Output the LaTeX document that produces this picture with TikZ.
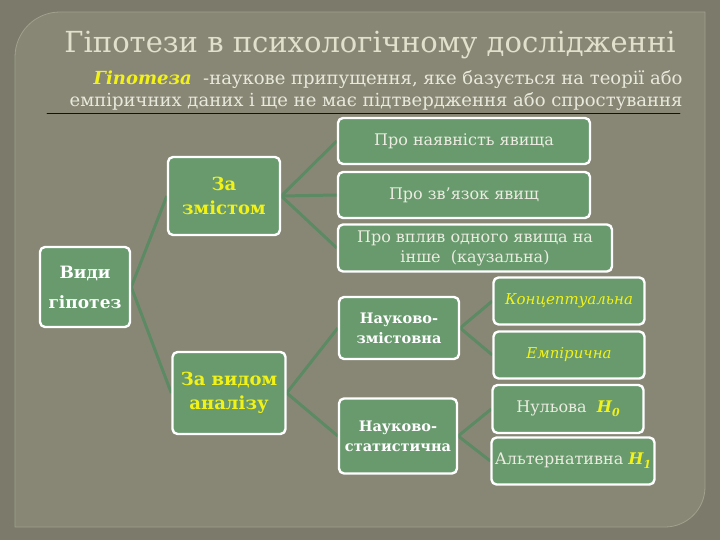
\documentclass[tikz,border=0pt]{standalone}
\usepackage{fontspec}
\setmainfont{DejaVu Serif}
\usetikzlibrary{backgrounds}
\definecolor{bgout}{RGB}{124,123,107}
\definecolor{bgin}{RGB}{136,135,118}
\definecolor{rim}{RGB}{160,160,142}
\definecolor{leaf}{RGB}{104,154,110}
\definecolor{wire}{RGB}{92,138,98}
\definecolor{pale}{RGB}{224,224,204}
\definecolor{hl}{RGB}{242,242,24}
\newcommand{\hyp}[1]{\textcolor{hl}{\textbf{\textit{H\raisebox{-0.45ex}{\fontsize{11}{11}\selectfont #1}}}}}
\begin{document}
\begin{tikzpicture}[x=1pt,y=-1pt,line join=round,line cap=round,
  box/.style={draw=white,line width=2.4pt,fill=leaf,rounded corners=5pt,text=pale!60!white,
    align=center,inner sep=0pt,font=\fontsize{16}{20}\selectfont},
  head/.style={box,text=hl,font=\bfseries\fontsize{18}{24}\selectfont},
  wire/.style={draw=wire,line width=3pt}]
\useasboundingbox (0,0) rectangle (720,540);
% title and definition
\node[text=pale,font=\fontsize{29}{32}\selectfont] (title) at (370,45) {Гіпотези в психологічному дослідженні};
\node[anchor=east,text=pale!70!white,font=\fontsize{18}{20}\selectfont] (defa) at (686,80)
  {\textcolor{hl}{\textbf{\textit{Гіпотеза}}}\ \ -наукове припущення, яке базується на теорії або};
\node[anchor=east,text=pale!70!white,font=\fontsize{18}{20}\selectfont] (defb) at (686,102)
  {емпіричних даних і ще не має підтвердження або спростування};
\draw[black!70!green!40!black,line width=0.8pt] (47,113) -- (680,113);
% tree
\node[box,minimum width=90,minimum height=80,font=\bfseries\fontsize{17}{30}\selectfont,text=white] (kinds) at (85,287) {Види\\гіпотез};
\node[head,minimum width=112,minimum height=78] (cont) at (224,196) {За\\змістом};
\node[head,minimum width=113,minimum height=82] (anal) at (229,393) {За видом\\аналізу};
\node[box,minimum width=252,minimum height=46] (exist) at (464,141) {Про наявність явища};
\node[box,minimum width=252,minimum height=46] (link) at (464,195) {Про зв’язок явищ};
\node[box,minimum width=274,minimum height=47] (cause) at (475,248) {Про вплив одного явища на\\інше\ \ (каузальна)};
\node[box,minimum width=120,minimum height=62,text=white,font=\bfseries\fontsize{14.5}{20}\selectfont] (subst) at (399,328) {Науково-\\змістовна};
\node[box,minimum width=118,minimum height=75,text=white,font=\bfseries\fontsize{14.5}{20}\selectfont] (stat) at (398,436) {Науково-\\статистична};
\node[box,minimum width=151,minimum height=47,text=hl,font=\itshape\fontsize{15}{19}\selectfont] (concept) at (569,301) {Концептуальна};
\node[box,minimum width=151,minimum height=47,text=hl,font=\itshape\fontsize{15}{19}\selectfont] (empir) at (569,355) {Емпірична};
\node[box,minimum width=151,minimum height=48] (null) at (568,409) {Нульова\ \ \hyp{0}};
\node[box,minimum width=163,minimum height=47] (alt) at (573,461) {Альтернативна \hyp{1}};
\begin{scope}[on background layer]
\fill[bgout] (0,0) rectangle (720,540);
\draw[fill=bgin,draw=rim,line width=0.8pt] (15,527) [rounded corners=45pt] -- (15,12) [sharp corners] -- (705,12) [rounded corners=40pt] -- (705,527) [sharp corners] -- cycle;
\foreach \a/\b in {kinds/cont,kinds/anal,cont/exist,cont/link,cont/cause,anal/subst,anal/stat,subst/concept,subst/empir,stat/null,stat/alt}
  \draw[wire] (\a.east) -- (\b.west);
\end{scope}
\end{tikzpicture}
\end{document}
